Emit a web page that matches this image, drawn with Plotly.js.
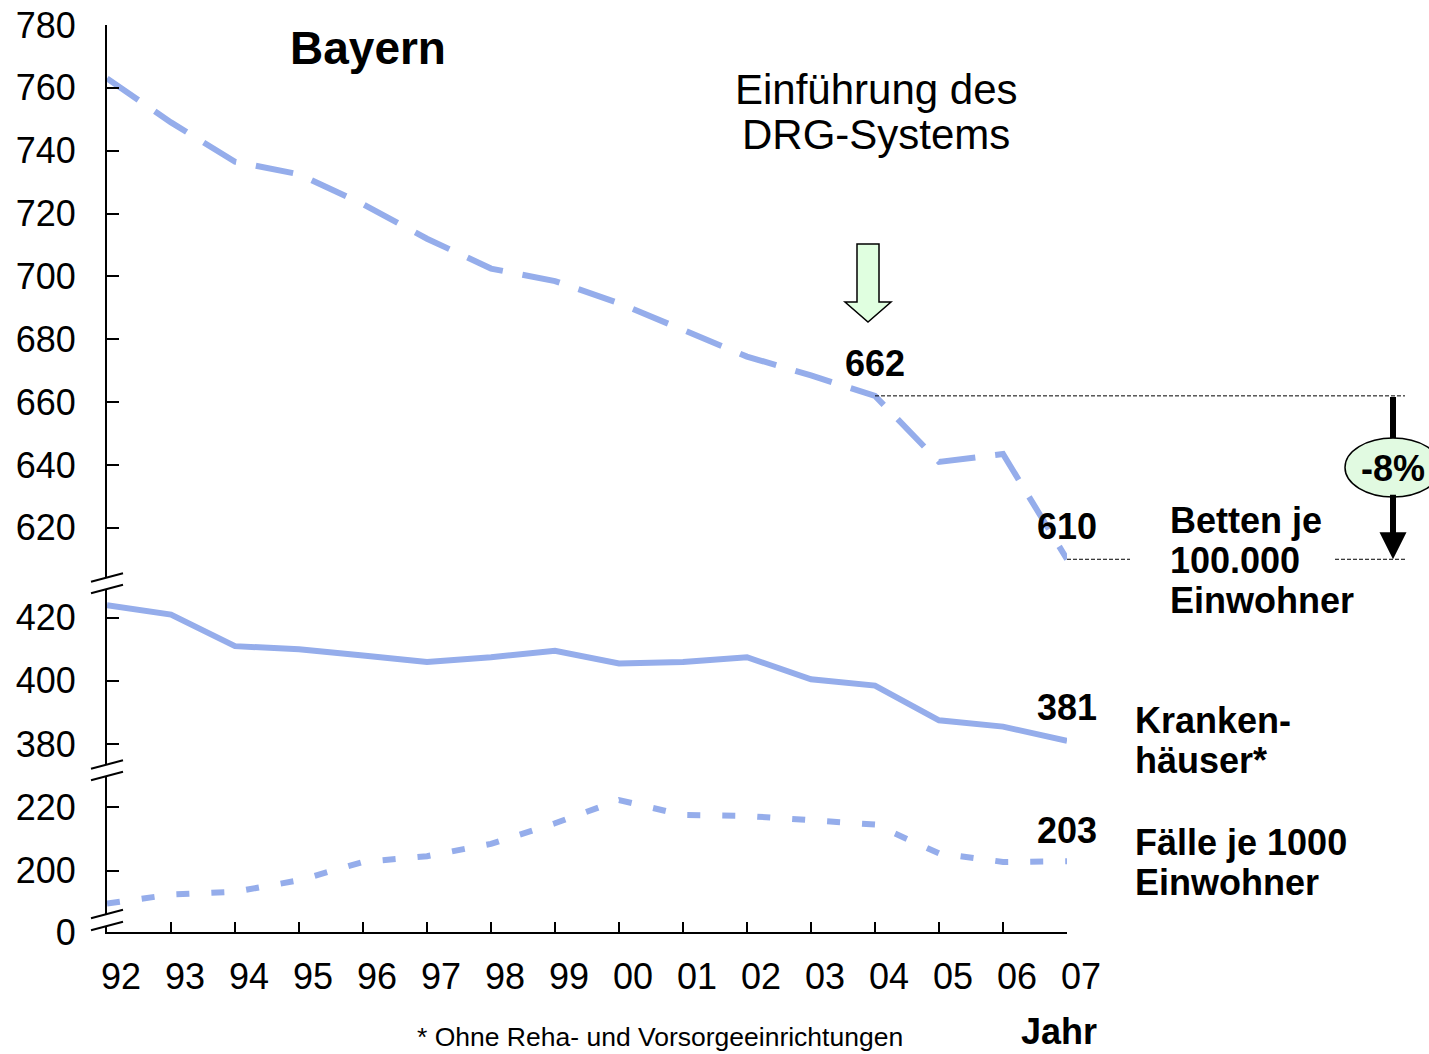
<!DOCTYPE html>
<html>
<head>
<meta charset="utf-8">
<script src="https://cdn.plot.ly/plotly-3.0.1.min.js"></script>
<style>html,body{margin:0;padding:0;background:#fff;}#chart{width:1429px;height:1054px;}</style>
</head>
<body>
<div id="chart"></div>
<script>
// ---- data ----
const years = ['92','93','94','95','96','97','98','99','00','01','02','03','04','05','06','07'];
const betten = [763, 749, 736.5, 732.5, 723, 712, 702.5, 698.5, 691.5, 683, 674.5, 668.5, 662, 641, 643.5, 610];
const krankenhaeuser = [424, 421, 411, 410, 408, 406, 407.5, 409.5, 405.5, 406, 407.5, 400.5, 398.5, 387.5, 385.5, 381];
const faelle = [189.7, 192.5, 193.4, 197, 202.8, 204.6, 208.5, 215, 222.3, 217.6, 217.3, 216, 214.6, 205.5, 202.8, 203];
const ticksTop = [620, 640, 660, 680, 700, 720, 740, 760, 780];
const ticksMid = [380, 400, 420];
const ticksLow = [180.7, 200, 220];
const ticksLowText = ['0', '200', '220'];
const drgIndex = 12; // 2004
const lastIndex = 15; // 2007

// ---- helpers (layout positions, pixel -> paper) ----
const L = 107, R = 1067, T = 25, B = 932;
const X = px => (px - L) / (R - L);
const Y = py => (B - py) / (B - T);
const FONT = 'Liberation Sans, Arial, sans-serif';
const BLUE = '#95adeb';
const xs = years.map((_, i) => i);
function Y2V(py) { return 780 - (py - 25.5) / 3.14; }

const traces = [
  {x: xs, y: betten, yaxis: 'y', mode: 'lines', line: {color: BLUE, width: 6, dash: '38px,20px'}, cliponaxis: false, hoverinfo: 'skip'},
  {x: xs, y: krankenhaeuser, yaxis: 'y2', mode: 'lines', line: {color: BLUE, width: 6}, cliponaxis: false, hoverinfo: 'skip'},
  {x: xs, y: faelle, yaxis: 'y3', mode: 'lines', line: {color: BLUE, width: 6, dash: '13px,22px'}, cliponaxis: false, hoverinfo: 'skip'}
];

const yCommon = {
  ticks: 'inside', ticklen: 12, tickwidth: 2, tickcolor: '#000',
  showline: true, linewidth: 2, linecolor: '#000', showgrid: false, zeroline: false,
  tickfont: {family: FONT, size: 36, color: '#000'}, ticklabelstandoff: 22,
  anchor: 'x', fixedrange: true
};

function txt(text, px, py, opts) {
  opts = opts || {};
  return Object.assign({
    text: text, xref: 'paper', yref: 'paper', x: X(px), y: Y(py),
    xanchor: opts.xanchor || 'left', yanchor: 'middle', showarrow: false, borderpad: 0,
    font: {family: FONT, size: opts.size || 36, color: '#000'}
  }, opts.extra || {});
}
function bold(s) { return '<b>' + s + '</b>'; }
function valueLabel(v, xi, yref, shift) {
  return {text: bold(String(v)), xref: 'x', yref: yref, x: xi, y: v, yshift: shift, showarrow: false,
          xanchor: 'center', yanchor: 'middle', font: {family: FONT, size: 36, color: '#000'}};
}

const annotations = [
  txt(bold('Bayern'), 289, 48, {size: 46}),
  txt('Einführung des', 876, 89, {size: 42, xanchor: 'center'}),
  txt('DRG-Systems', 876, 134, {size: 42, xanchor: 'center'}),
  valueLabel(betten[drgIndex], drgIndex, 'y', 32),
  valueLabel(betten[lastIndex], lastIndex, 'y', 33),
  valueLabel(krankenhaeuser[lastIndex], lastIndex, 'y2', 33),
  valueLabel(faelle[lastIndex], lastIndex, 'y3', 31),
  txt(bold('Betten je'), 1169, 520),
  txt(bold('100.000'), 1169, 560),
  txt(bold('Einwohner'), 1169, 600),
  txt(bold('Kranken-'), 1134, 720),
  txt(bold('häuser*'), 1134, 760),
  txt(bold('Fälle je 1000'), 1134, 842),
  txt(bold('Einwohner'), 1134, 882),
  txt(bold('-8%'), 1393, 468, {xanchor: 'center'}),
  txt('* Ohne Reha- und Vorsorgeeinrichtungen', 416, 1037, {size: 26.5}),
  txt(bold('Jahr'), 1020, 1031),
  // lower part of the black -8% arrow
  {text: '', xref: 'paper', yref: 'y', x: X(1393), y: betten[lastIndex], showarrow: true,
   axref: 'pixel', ayref: 'pixel', ax: 0, ay: -66, arrowhead: 2, arrowsize: 0.9, arrowwidth: 6, arrowcolor: '#000', standoff: 0}
];

const refDash = {color: '#000', width: 1, dash: '4px,2px'};
const shapes = [
  // dashed reference lines
  {type: 'line', xref: 'paper', yref: 'y', x0: drgIndex / 15, x1: X(1405), y0: betten[drgIndex], y1: betten[drgIndex], line: refDash, layer: 'above'},
  {type: 'line', xref: 'paper', yref: 'y', x0: 1, x1: X(1130), y0: betten[lastIndex], y1: betten[lastIndex], line: refDash, layer: 'above'},
  {type: 'line', xref: 'paper', yref: 'y', x0: X(1335), x1: X(1405), y0: betten[lastIndex], y1: betten[lastIndex], line: refDash, layer: 'above'},
  // upper part of black arrow
  {type: 'line', xref: 'paper', yref: 'paper', x0: X(1393), x1: X(1393), y0: Y(397), y1: Y(470), line: {color: '#000', width: 6}, layer: 'above'},
  // ellipse
  {type: 'circle', xref: 'paper', yref: 'paper', x0: X(1345), x1: X(1441), y0: Y(497), y1: Y(438), fillcolor: '#e1fae1', line: {color: '#000', width: 1.5}, layer: 'above'},
  // green DRG arrow
  {type: 'path', xref: 'paper', yref: 'paper', layer: 'above', fillcolor: '#e0ffe0', line: {color: '#000', width: 1.5},
   path: `M ${X(857)},${Y(244)} L ${X(879)},${Y(244)} L ${X(879)},${Y(302)} L ${X(891)},${Y(302)} L ${X(868)},${Y(322)} L ${X(845)},${Y(302)} L ${X(857)},${Y(302)} Z`},
  // white gap for the lowest axis break
  {type: 'rect', xref: 'paper', yref: 'paper', x0: X(102), x1: X(112), y0: Y(926), y1: Y(914), fillcolor: '#fff', line: {width: 0}, layer: 'above'}
];
// break slashes
[577.5, 589, 764.5, 776, 914, 926].forEach(a => {
  shapes.push({type: 'line', xref: 'paper', yref: 'paper', x0: X(91), y0: Y(a + 4.2), x1: X(123), y1: Y(a - 4.2), line: {color: '#000', width: 2}, layer: 'above'});
});

const layout = {
  width: 1429, height: 1054,
  margin: {l: L, r: 1429 - R, t: T, b: 1054 - B, pad: 0},
  paper_bgcolor: '#fff', plot_bgcolor: 'rgba(0,0,0,0)',
  showlegend: false,
  font: {family: FONT, color: '#000'},
  xaxis: {
    range: [0, 15], tickvals: xs, ticktext: years, anchor: 'y3',
    ticks: 'inside', ticklen: 10, tickwidth: 2, tickcolor: '#000',
    showline: true, linewidth: 2, linecolor: '#000', showgrid: false, zeroline: false,
    tickfont: {family: FONT, size: 36, color: '#000'}, ticklabelshift: 14, ticklabelstandoff: 12,
    fixedrange: true
  },
  yaxis: Object.assign({}, yCommon, {domain: [Y(577.5), 1], range: [Y2V(577.5), 780], tickvals: ticksTop}),
  yaxis2: Object.assign({}, yCommon, {domain: [Y(764.5), Y(589)], range: [373.5, 429.1], tickvals: ticksMid}),
  yaxis3: Object.assign({}, yCommon, {domain: [0, Y(776)], range: [180.7, 229.9], tickvals: ticksLow, ticktext: ticksLowText}),
  annotations: annotations,
  shapes: shapes
};

Plotly.newPlot('chart', traces, layout, {displayModeBar: false, staticPlot: true});
</script>
</body>
</html>
